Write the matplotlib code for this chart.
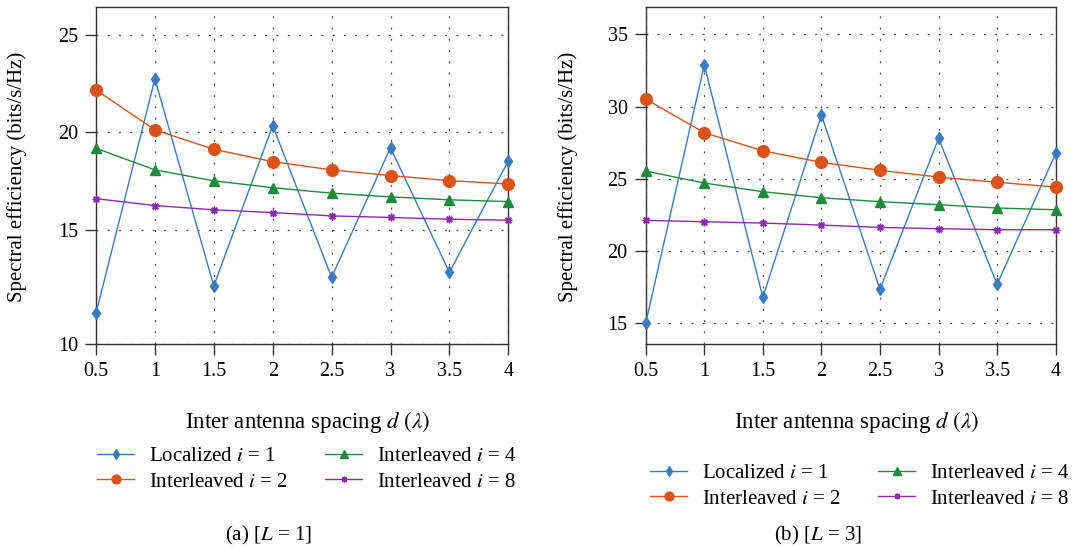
import numpy as np
import matplotlib
matplotlib.use("Agg")
import matplotlib.pyplot as plt

# ---------------- data ----------------
spacing = [0.5, 1, 1.5, 2, 2.5, 3, 3.5, 4]
xtick_labels = ["0.5", "1", "1.5", "2", "2.5", "3", "3.5", "4"]

# (a) L = 1
a_localized_1 = [11.36, 22.74, 12.56, 20.35, 12.94, 19.22, 13.16, 18.55]
a_interleaved_2 = [22.17, 20.13, 19.14, 18.51, 18.09, 17.80, 17.54, 17.37]
a_interleaved_4 = [19.19, 18.09, 17.53, 17.18, 16.90, 16.71, 16.56, 16.47]
a_interleaved_8 = [16.62, 16.27, 16.05, 15.91, 15.74, 15.66, 15.57, 15.52]
a_yticks = [10, 15, 20, 25]

# (b) L = 3
b_localized_1 = [15.0, 32.88, 16.8, 29.42, 17.35, 27.8, 17.7, 26.76]
b_interleaved_2 = [30.52, 28.19, 26.94, 26.14, 25.59, 25.12, 24.76, 24.43]
b_interleaved_4 = [25.54, 24.71, 24.11, 23.69, 23.42, 23.21, 22.98, 22.86]
b_interleaved_8 = [22.13, 22.03, 21.94, 21.80, 21.64, 21.55, 21.48, 21.48]
b_yticks = [15, 20, 25, 30, 35]

series_labels = ["Localized $i$ = 1", "Interleaved $i$ = 2",
                 "Interleaved $i$ = 4", "Interleaved $i$ = 8"]
colors = ["#3a7bc2", "#d9531a", "#1f8a3c", "#8b2cae"]
markers = ["d", "o", "^", (8, 2, 0)]
msizes = [6.2, 8.5, 7.5, 5.5]

plt.rcParams["font.family"] = ["Liberation Serif", "DejaVu Serif"]
plt.rcParams["mathtext.fontset"] = "stix"

fig = plt.figure(figsize=(10.84, 5.48), dpi=100)
W, H = 1084, 548

def px_axes(l, r, t, b):
    return fig.add_axes([l / W, 1 - b / H, (r - l) / W, (b - t) / H])

ax_a = px_axes(96, 508.3, 7.3, 344.3)
ax_b = px_axes(645.7, 1055.7, 7.3, 344.3)

# the left panel's y axis is stretched below 15 in the reference
k = 114.0 / 98.0
def fwd(y):
    y = np.asarray(y, dtype=float)
    return np.where(y >= 15, y, 15 - (15 - y) * k)
def inv(y):
    y = np.asarray(y, dtype=float)
    return np.where(y >= 15, y, 15 - (15 - y) / k)
ax_a.set_yscale("function", functions=(fwd, inv))

def draw(ax, data, yticks, ylim, xl_x, yl_x):
    handles = []
    for vals, c, m, ms, lab in zip(data, colors, markers, msizes, series_labels):
        h, = ax.plot(spacing, vals, color=c, marker=m, markersize=ms,
                     markerfacecolor=c, markeredgecolor=c, linewidth=1.0,
                     label=lab, clip_on=False, zorder=3)
        handles.append(h)
    ax.set_xlim(0.5, 4)
    ax.set_ylim(*ylim)
    ax.set_xticks(spacing)
    ax.set_xticklabels(xtick_labels)
    ax.set_yticks(yticks)
    ax.set_yticklabels([str(t) for t in yticks])
    ax.yaxis.set_minor_locator(matplotlib.ticker.NullLocator())
    ax.grid(True, linestyle=(0, (1.5, 7.5)), linewidth=0.9, color="#444444")
    ax.tick_params(direction="out", length=8, width=1.0, color="#333333",
                   labelsize=14.5, pad=5, top=False, right=False)
    for s in ax.spines.values():
        s.set_color("#333333")
        s.set_linewidth(1.0)
    ax.set_xlabel("Inter antenna spacing $d$ $(\\lambda)$", fontsize=16.5)
    ax.xaxis.set_label_coords(xl_x, -0.2306)
    ax.xaxis.label.set_verticalalignment("center")
    ax.set_ylabel("Spectral efficiency (bits/s/Hz)", fontsize=15)
    ax.yaxis.set_label_coords(yl_x, 0.497)
    ax.yaxis.label.set_verticalalignment("center")
    return handles

ha = draw(ax_a, [a_localized_1, a_interleaved_2, a_interleaved_4, a_interleaved_8],
          a_yticks, (10, 26.39), 0.512, -0.192)
hb = draw(ax_b, [b_localized_1, b_interleaved_2, b_interleaved_4, b_interleaved_8],
          b_yticks, (13.55, 36.87), 0.515, -0.1895)

leg_kw = dict(ncol=2, frameon=False, fontsize=15, handlelength=1.75,
              handletextpad=0.75, columnspacing=1.8, labelspacing=0.3,
              markerscale=0.75, loc="center")
fig.legend(handles=ha, bbox_to_anchor=(307 / W, 1 - 469 / H), **leg_kw)
fig.legend(handles=hb, bbox_to_anchor=(860 / W, 1 - 486 / H), **leg_kw)

fig.text(268 / W, 1 - 535 / H, "(a) [$L$ = 1]", ha="center", va="center", fontsize=15)
fig.text(818 / W, 1 - 535 / H, "(b) [$L$ = 3]", ha="center", va="center", fontsize=15)

fig.savefig("out.png", dpi=100)
